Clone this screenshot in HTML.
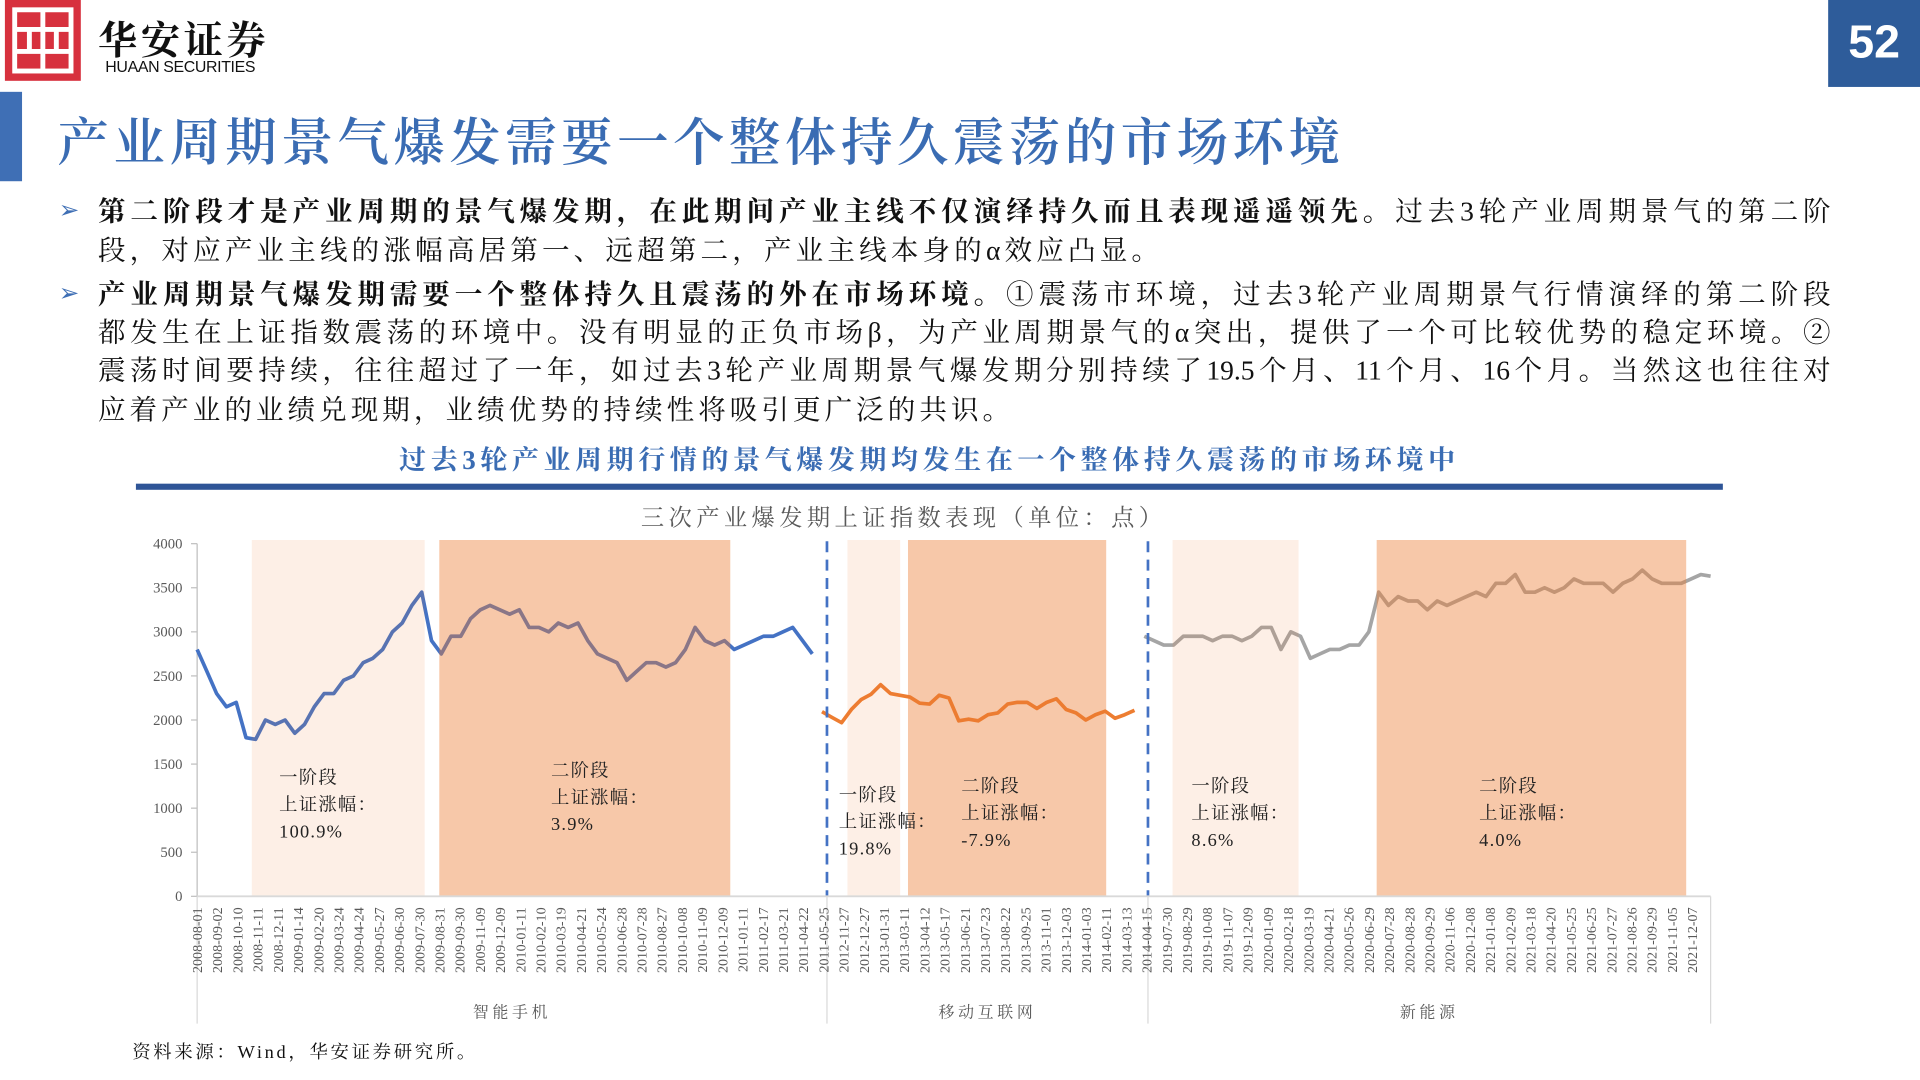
<!DOCTYPE html>
<html><head><meta charset="utf-8">
<style>
html,body{margin:0;padding:0;background:#fff;width:1920px;height:1080px;overflow:hidden}
#stage{position:absolute;left:0;top:0;width:1568px;height:882px;transform:scale(1.22449);transform-origin:0 0;font-family:"Liberation Serif","Noto Serif CJK SC",serif;color:#111}
.abs{position:absolute}
.line{position:absolute;left:80px;width:1415px;font-size:22.5px;line-height:31px;white-space:nowrap}
.just{text-align:justify;text-align-last:justify}
.arrow{position:absolute;left:48px;color:#3f6fb5;font-size:20px}
</style></head><body>
<div id="stage">
  <div class="abs" style="left:4px;top:0;width:62px;height:66px;background:#d7313e">
    <svg width="62" height="66" viewBox="0 0 62 66"><g fill="none" stroke="#fff" stroke-width="4"><rect x="8" y="8" width="46" height="50"/><path d="M31 8V58M8 24H54M8 42H54M20 24V42M42 24V42"/></g></svg>
  </div>
  <div class="abs" style="left:80px;top:8px;font-size:32px;font-weight:bold;letter-spacing:3px;font-family:'Noto Serif CJK SC',serif">华安证券</div>
  <div class="abs" style="left:86px;top:47px;font-size:13px;font-family:'Liberation Sans',sans-serif;letter-spacing:-0.3px">HUAAN SECURITIES</div>
  <div class="abs" style="left:1493px;top:0;width:75px;height:71px;background:#2e5c9a;color:#fff;font:bold 38px 'Liberation Sans',sans-serif;line-height:71px;text-align:center">52</div>
  <div class="abs" style="left:0;top:75px;width:18px;height:73px;background:#3f6fb5"></div>
  <div class="abs" style="left:47px;top:84px;font-size:42px;color:#3a6cb3;font-family:'Noto Serif CJK SC',serif;font-weight:600;letter-spacing:3.7px">产业周期景气爆发需要一个整体持久震荡的市场环境</div>

  <div class="arrow" style="top:159px">➢</div>
  <div class="line just" style="top:157px"><b>第二阶段才是产业周期的景气爆发期，在此期间产业主线不仅演绎持久而且表现遥遥领先。</b>过去3轮产业周期景气的第二阶</div>
  <div class="line" style="top:189px;letter-spacing:3.4px">段，对应产业主线的涨幅高居第一、远超第二，产业主线本身的α效应凸显。</div>
  <div class="arrow" style="top:227px">➢</div>
  <div class="line just" style="top:225px"><b>产业周期景气爆发期需要一个整体持久且震荡的外在市场环境。</b>①震荡市环境，过去3轮产业周期景气行情演绎的第二阶段</div>
  <div class="line just" style="top:256px">都发生在上证指数震荡的环境中。没有明显的正负市场β，为产业周期景气的α突出，提供了一个可比较优势的稳定环境。②</div>
  <div class="line just" style="top:287px">震荡时间要持续，往往超过了一年，如过去3轮产业周期景气爆发期分别持续了19.5个月、11个月、16个月。当然这也往往对</div>
  <div class="line" style="top:319px;letter-spacing:3.3px">应着产业的业绩兑现期，业绩优势的持续性将吸引更广泛的共识。</div>

  <div class="abs" style="left:111px;width:1296px;top:359px;text-align:center;font-size:22px;font-weight:bold;color:#3a6cb3;letter-spacing:3.8px">过去3轮产业周期行情的景气爆发期均发生在一个整体持久震荡的市场环境中</div>
  <div class="abs" style="left:111px;top:395px;width:1296px;height:5px;background:#2f5597"></div>

  <svg id="chart" class="abs" style="left:0;top:400px" width="1568" height="450"></svg>

  <div class="abs" style="left:108px;top:848px;font-size:15px;letter-spacing:2.2px">资料来源：Wind，华安证券研究所。</div>
</div>
<script>
// Shanghai Composite values (points), one array per industry cycle
const seg1Values=[2800,2550,2300,2150,2200,1800,1780,2000,1950,2000,1850,1950,2150,2300,2300,2450,2500,2650,2700,2800,3000,3100,3300,3450,2900,2750,2950,2950,3150,3250,3300,3250,3200,3250,3050,3050,3000,3100,3050,3100,2900,2750,2700,2650,2450,2550,2650,2650,2600,2650,2800,3050,2900,2850,2900,2800,2850,2900,2950,2950,3000,3050,2900,2750];
const seg2Values=[2094,2030,1969,2120,2230,2290,2400,2300,2280,2260,2190,2180,2280,2250,1990,2010,1990,2060,2080,2180,2200,2200,2130,2200,2240,2120,2080,2000,2060,2100,2020,2060,2110];
const seg3Values=[2950,2900,2850,2850,2950,2950,2950,2900,2950,2950,2900,2950,3050,3050,2800,3000,2950,2700,2750,2800,2800,2850,2850,3000,3450,3300,3400,3350,3350,3250,3350,3300,3350,3400,3450,3400,3550,3550,3650,3450,3450,3500,3450,3500,3600,3550,3550,3550,3450,3550,3600,3700,3600,3550,3550,3550,3600,3650,3630];
const seriesColors=['#4472c4','#ed7d31','#a5a5a5'];
const yTicks=[0,500,1000,1500,2000,2500,3000,3500,4000];
const seg1Dates=['2008-08-01','2008-09-02','2008-10-10','2008-11-11','2008-12-11','2009-01-14','2009-02-20','2009-03-24','2009-04-24','2009-05-27','2009-06-30','2009-07-30','2009-08-31','2009-09-30','2009-11-09','2009-12-09','2010-01-11','2010-02-10','2010-03-19','2010-04-21','2010-05-24','2010-06-28','2010-07-28','2010-08-27','2010-10-08','2010-11-09','2010-12-09','2011-01-11','2011-02-17','2011-03-21','2011-04-22','2011-05-25'];
const seg2Dates=['2012-11-27','2012-12-27','2013-01-31','2013-03-11','2013-04-12','2013-05-17','2013-06-21','2013-07-23','2013-08-22','2013-09-25','2013-11-01','2013-12-03','2014-01-03','2014-02-11','2014-03-13','2014-04-15'];
const seg3Dates=['2019-07-30','2019-08-29','2019-10-08','2019-11-07','2019-12-09','2020-01-09','2020-02-18','2020-03-19','2020-04-21','2020-05-26','2020-06-29','2020-07-28','2020-08-28','2020-09-29','2020-11-06','2020-12-08','2021-01-08','2021-02-09','2021-03-18','2021-04-20','2021-05-25','2021-06-25','2021-07-27','2021-08-26','2021-09-29','2021-11-05','2021-12-07'];
const segNames=['智能手机','移动互联网','新能源'];
// stage bands in data-slot units (start,end)
const bandStarts=[5.6,24.8,66.6,72.8,99.9,120.8];
const bandEnds=[23.3,54.6,72.0,93.1,112.8,152.5];
const bandStage=[1,2,1,2,1,2];
const stageLabels=['一阶段','二阶段','一阶段','二阶段','一阶段','二阶段'];
const stageReturns=['100.9%','3.9%','19.8%','-7.9%','8.6%','4.0%'];

const svg=document.getElementById('chart');const NS='http://www.w3.org/2000/svg';
const OY=400;
const X0=161,X1=1397,Y0=732-OY,Y1=444-OY;
const segs=[seg1Values,seg2Values,seg3Values];
const totalSlots=segs.reduce((a,s)=>a+s.length,0);
const slotW=(X1-X0)/(totalSlots-1);
function xs(i){return X0+i*slotW;}
function ys(v){return Y0-(v/4000)*(Y0-Y1);}
function mk(tag,attrs,parent){const e=document.createElementNS(NS,tag);for(const k in attrs)e.setAttribute(k,attrs[k]);(parent||svg).appendChild(e);return e;}
const sf="Liberation Serif, Noto Serif CJK SC, serif";
let t=mk('text',{x:738,y:29,'text-anchor':'middle','font-size':19,fill:'#595959','font-family':sf,'letter-spacing':'3.6'});


t.textContent='三次产业爆发期上证指数表现（单位：点）';
let ax=mk('line',{x1:X0,x2:X0,y1:Y1,y2:Y0,stroke:'#bfbfbf','stroke-width':1});


yTicks.forEach(v=>{
  const tk=mk('line',{x1:X0-5,x2:X0,y1:ys(v),y2:ys(v),stroke:'#bfbfbf'});
  
  
  const lb=mk('text',{x:X0-12,y:ys(v)+4,'text-anchor':'end','font-size':12,fill:'#595959','font-family':sf});
  
  
  lb.textContent=v;
});
let off=0;const segStart=[],segEnd=[];
segs.forEach((vals,si)=>{
  segStart.push(off);segEnd.push(off+vals.length-1);
  const d=vals.map((v,i)=>(i?'L':'M')+xs(off+i).toFixed(1)+' '+ys(v).toFixed(1)).join('');
  const p=mk('path',{d:d,fill:'none',stroke:seriesColors[si],'stroke-width':3,'stroke-linejoin':'round'});
  
  
  off+=vals.length;
});
bandStarts.forEach((s,i)=>{
  const r=mk('rect',{x:xs(s),y:Y1-3,width:xs(bandEnds[i])-xs(s),height:Y0-Y1+3,fill:'#ed7d31','fill-opacity':bandStage[i]===1?0.12:0.42});
  
  
});
const sepX=[(xs(segEnd[0])+xs(segStart[1]))/2+8,(xs(segEnd[1])+xs(segStart[2]))/2+7];
sepX.forEach((x,i)=>{
  const l=mk('line',{x1:x,x2:x,y1:Y1-2,y2:Y0,stroke:'#4472c4','stroke-width':2.2,'stroke-dasharray':'9 6'});
  
  
});
let xa=mk('line',{x1:X0,x2:X1,y1:Y0,y2:Y0,stroke:'#d9d9d9','stroke-width':1.5});


[X0,sepX[0],sepX[1],X1].forEach(x=>{
  const l=mk('line',{x1:x,x2:x,y1:Y0,y2:Y0+104,stroke:'#d9d9d9'});
  
  
});
const allDates=seg1Dates.concat(seg2Dates,seg3Dates);
const dStep=16.5;
allDates.forEach((d,k)=>{
  const x=X0+k*dStep+4;
  const tx=mk('text',{x:0,y:0,'text-anchor':'end','font-size':11.5,fill:'#595959','font-family':sf,transform:`translate(${x},${Y0+9}) rotate(-90)`});
  
  
  tx.textContent=d;
});
const catX=[(X0+sepX[0])/2,(sepX[0]+sepX[1])/2,(sepX[1]+X1)/2];
segNames.forEach((n,i)=>{
  const tx=mk('text',{x:catX[i],y:Y0+99,'text-anchor':'middle','font-size':13,fill:'#595959','font-family':sf,'letter-spacing':'3'});
  
  
  tx.textContent=n;
});
const annX=[228,450,685,785,973,1208];const annY=[635,629,649,642,642,642];
stageLabels.forEach((s,i)=>{
  [s,'上证涨幅：',stageReturns[i]].forEach((line,j)=>{
    const tx=mk('text',{x:annX[i],y:annY[i]-OY+j*22+5,'font-size':15,fill:'#222','font-family':sf,'letter-spacing':'1'});
    
    
    tx.textContent=line;
  });
});
</script>
</body></html>
